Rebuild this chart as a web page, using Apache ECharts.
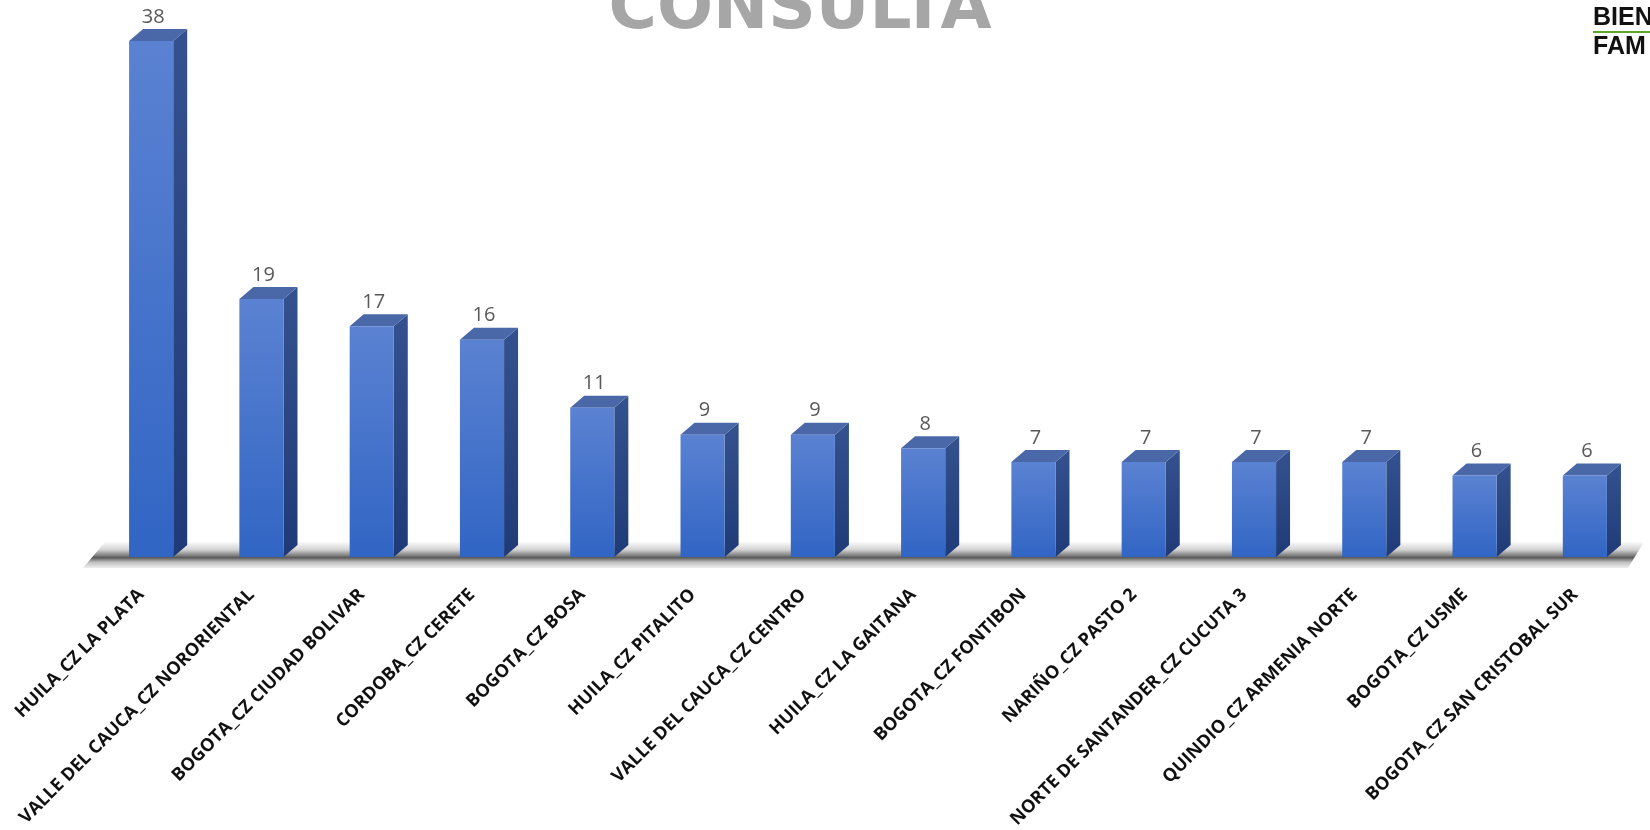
<!DOCTYPE html>
<html>
<head>
<meta charset="utf-8">
<style>
  html, body { margin: 0; padding: 0; background: #ffffff; }
  #chart { width: 1650px; height: 830px; }
</style>
<script src="https://cdn.jsdelivr.net/npm/echarts@6/dist/echarts.min.js"></script>
</head>
<body>
<div id="chart"></div>
<script>
// Centros zonales con mayor número de consultas
const categories = [
  'HUILA_CZ LA PLATA',
  'VALLE DEL CAUCA_CZ NORORIENTAL',
  'BOGOTA_CZ CIUDAD BOLIVAR',
  'CORDOBA_CZ CERETE',
  'BOGOTA_CZ BOSA',
  'HUILA_CZ PITALITO',
  'VALLE DEL CAUCA_CZ CENTRO',
  'HUILA_CZ LA GAITANA',
  'BOGOTA_CZ FONTIBON',
  'NARIÑO_CZ PASTO 2',
  'NORTE DE SANTANDER_CZ CUCUTA 3',
  'QUINDIO_CZ ARMENIA NORTE',
  'BOGOTA_CZ USME',
  'BOGOTA_CZ SAN CRISTOBAL SUR'
];
const consultas = [38, 19, 17, 16, 11, 9, 9, 8, 7, 7, 7, 7, 6, 6];

const titleText = 'CONSULTA';

const chart = echarts.init(document.getElementById('chart'), null, { renderer: 'canvas' });

// depth of the extruded box
const DX = 14, DY = 12;

function renderBox(params, api) {
  const idx = api.value(0);
  const val = api.value(1);
  const top = api.coord([idx, val]);
  const base = api.coord([idx, 0]);
  const w = api.size([1, 0])[0] * 0.4;
  const x0 = top[0] - w / 2;
  const x1 = top[0] + w / 2;
  const yT = top[1];
  const yB = base[1];
  return {
    type: 'group',
    children: [
      { // side face
        type: 'polygon',
        shape: { points: [[x1, yT], [x1 + DX, yT - DY], [x1 + DX, yB - DY], [x1, yB]] },
        style: {
          fill: new echarts.graphic.LinearGradient(0, 0, 0, 1, [
            { offset: 0, color: '#34528f' },
            { offset: 1, color: '#1f3b77' }
          ])
        }
      },
      { // top face
        type: 'polygon',
        shape: { points: [[x0, yT], [x0 + DX, yT - DY], [x1 + DX, yT - DY], [x1, yT]] },
        style: { fill: '#4a68a8' }
      },
      { // front face
        type: 'rect',
        shape: { x: x0, y: yT, width: w, height: yB - yT },
        style: {
          fill: new echarts.graphic.LinearGradient(0, 0, 0, 1, [
            { offset: 0, color: '#5b82d2' },
            { offset: 1, color: '#3165c4' }
          ])
        }
      },
      { // value label
        type: 'text',
        style: {
          x: top[0] + 2,
          y: yT - DY - 12,
          text: String(val),
          align: 'center',
          verticalAlign: 'middle',
          fill: '#595959',
          font: '20px "Open Sans", sans-serif'
        }
      }
    ]
  };
}

const option = {
  animation: false,
  backgroundColor: '#ffffff',
  grid: {
    left: 96, right: 10, top: 41, bottom: 273,
    containLabel: false,
    outerBoundsMode: 'none'
  },
  xAxis: {
    type: 'category',
    data: categories,
    axisLine: { show: false },
    axisTick: { show: false },
    axisLabel: {
      interval: 0,
      rotate: 45,
      margin: 25,
      padding: [0, 14, 0, 0],
      color: '#111111',
      fontFamily: 'Open Sans',
      fontWeight: 'bold',
      fontSize: 18
    }
  },
  yAxis: {
    type: 'value',
    min: 0,
    max: 38,
    show: false,
    splitLine: { show: false }
  },
  graphic: [
    { // floor shadow
      type: 'polygon',
      z: 0,
      shape: { points: [[105, 542], [1644, 542], [1628, 568], [83, 568]] },
      style: {
        fill: new echarts.graphic.LinearGradient(0, 0, 0, 1, [
          { offset: 0, color: '#fafafa' },
          { offset: 0.3, color: '#d2d2d2' },
          { offset: 0.52, color: '#7f7f7f' },
          { offset: 0.6, color: '#5a5a5a' },
          { offset: 0.78, color: '#c0c0c0' },
          { offset: 1, color: '#eeeeee' }
        ])
      }
    },
    {
      type: 'text',
      x: 800,
      y: -22,
      style: {
        text: titleText,
        align: 'center',
        fill: '#a6a6a6',
        font: 'bold 66px "DejaVu Sans", sans-serif'
      }
    },
    {
      type: 'text',
      x: 1593,
      y: 6,
      style: { text: 'BIEN', fill: '#111111', font: 'bold 25px "Liberation Sans", sans-serif' }
    },
    {
      type: 'rect',
      shape: { x: 1593, y: 31, width: 60, height: 2 },
      style: { fill: '#5ea52e' }
    },
    {
      type: 'text',
      x: 1593,
      y: 35,
      style: { text: 'FAM', fill: '#111111', font: 'bold 25px "Liberation Sans", sans-serif' }
    }
  ],
  series: [
    {
      type: 'custom',
      renderItem: renderBox,
      z: 2,
      encode: { x: 0, y: 1 },
      data: consultas.map((v, i) => [i, v])
    }
  ]
};

chart.setOption(option);
</script>
</body>
</html>
